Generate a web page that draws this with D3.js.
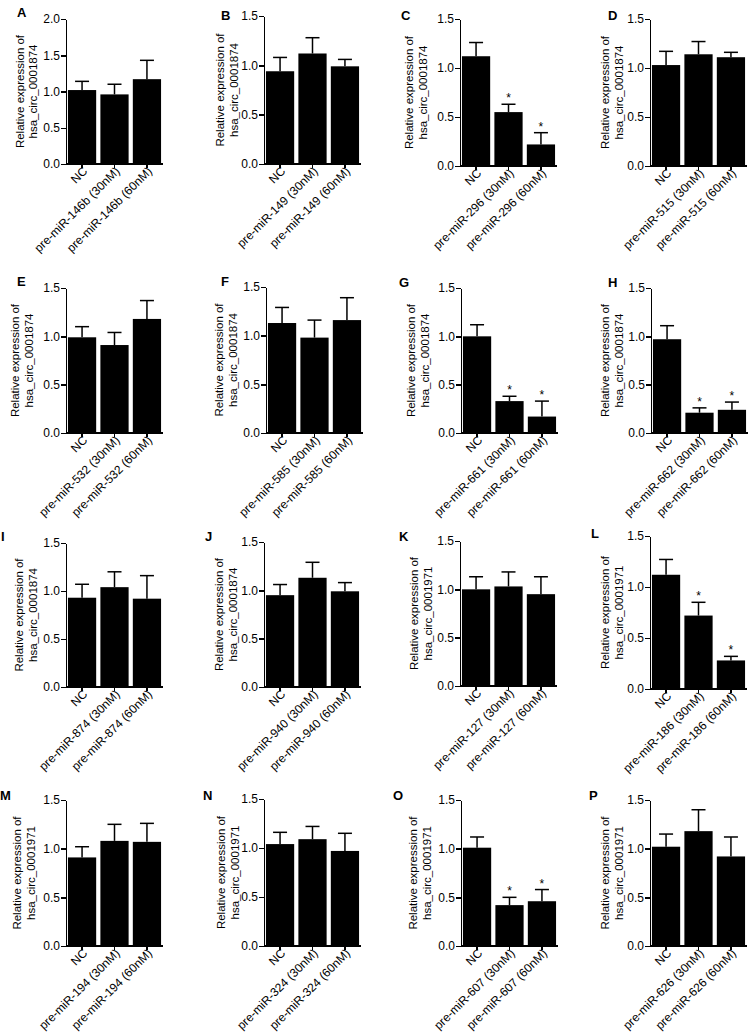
<!DOCTYPE html>
<meta charset="utf-8">
<style>
body { margin:0; background:#fff; font-family: Arial, "Liberation Sans", Helvetica, sans-serif; }
.axis path, .axis line { stroke:#000; stroke-width:1.5px; shape-rendering:crispEdges; }
.axis text { font-size:12px; fill:#000; }
.letter { font-size:13px; font-weight:bold; }
.ylab { font-size:11.5px; }
</style>
<svg width="754" height="1036"></svg>
<script src="https://d3js.org/d3.v7.min.js"></script>
<script>

// data
var letters = ["A","B","C","D","E","F","G","H","I","J","K","L","M","N","O","P"];
var mirnas = ["146b","149","296","515","532","585","661","662","874","940","127","186","194","324","607","626"];
var circs = ["hsa_circ_0001874","hsa_circ_0001874","hsa_circ_0001874","hsa_circ_0001874",
             "hsa_circ_0001874","hsa_circ_0001874","hsa_circ_0001874","hsa_circ_0001874",
             "hsa_circ_0001874","hsa_circ_0001874","hsa_circ_0001971","hsa_circ_0001971",
             "hsa_circ_0001971","hsa_circ_0001971","hsa_circ_0001971","hsa_circ_0001971"];
var yMax = [2.0,1.5,1.5,1.5, 1.5,1.5,1.5,1.5, 1.5,1.5,1.5,1.5, 1.5,1.5,1.5,1.5];
var means = [
  [1.02,0.96,1.17],[0.94,1.12,0.99],[1.12,0.55,0.22],[1.03,1.14,1.11],
  [0.99,0.91,1.18],[1.13,0.98,1.16],[1.00,0.33,0.17],[0.97,0.21,0.24],
  [0.93,1.04,0.92],[0.95,1.13,0.99],[1.00,1.03,0.95],[1.12,0.72,0.28],
  [0.91,1.08,1.07],[1.04,1.09,0.97],[1.01,0.42,0.46],[1.02,1.18,0.92]
];
var errs = [
  [0.12,0.14,0.26],[0.14,0.16,0.07],[0.14,0.08,0.12],[0.14,0.13,0.05],
  [0.11,0.13,0.19],[0.16,0.18,0.23],[0.12,0.05,0.16],[0.14,0.05,0.08],
  [0.14,0.16,0.24],[0.11,0.16,0.09],[0.13,0.15,0.18],[0.15,0.13,0.04],
  [0.11,0.17,0.19],[0.12,0.13,0.18],[0.11,0.08,0.12],[0.13,0.22,0.20]
];
var sig = [
  [0,0,0],[0,0,0],[0,1,1],[0,0,0],
  [0,0,0],[0,0,0],[0,1,1],[0,1,1],
  [0,0,0],[0,0,0],[0,0,0],[0,1,1],
  [0,0,0],[0,0,0],[0,1,1],[0,0,0]
];

// layout (pixel positions of each panel)
var axisX = [66,264,460,650, 66,266,461,651, 66,264,460,650, 66,264,461,650];
var topY  = [19,16,19,19, 288,287,288,288, 543,542,541,536, 800,799,800,800];
var baseY = [164,164,166,166, 433,433,433,433, 687,687,686,689, 946,946,946,946];
var letterPos = [[17,17],[221,20],[401,20],[608,20],[17,286],[221,286],[399,287],[608,287],
                 [1,541],[205,541],[399,541],[591,538],[0,800],[203,800],[393,800],[589,800]];
var lab1 = [-46,-44,-51,-45, -51,-47,-50,-46, -47,-45,-46,-45, -49,-43,-48,-45];
var lab2 = [-33,-30,-37,-31, -37,-33,-36,-32, -33,-31,-32,-31, -35,-29,-34,-31];
var plotW = 97;

var svg = d3.select("svg");

letters.forEach(function(L, p) {
  var g = svg.append("g");
  var cats = ["NC", "pre-miR-" + mirnas[p] + " (30nM)", "pre-miR-" + mirnas[p] + " (60nM)"];

  var x = d3.scaleBand().domain(cats).range([axisX[p], axisX[p] + plotW])
      .paddingInner(0.13).paddingOuter(0.06);
  var y = d3.scaleLinear().domain([0, yMax[p]]).range([baseY[p], topY[p]]);

  // bars
  g.selectAll("rect").data(cats).enter().append("rect")
      .attr("x", function(d) { return x(d); })
      .attr("width", x.bandwidth())
      .attr("y", function(d, i) { return y(means[p][i]); })
      .attr("height", function(d, i) { return baseY[p] - y(means[p][i]); })
      .attr("fill", "#000");

  // error bars (upper only)
  cats.forEach(function(d, i) {
    var cx = x(d) + x.bandwidth() / 2;
    var top = y(means[p][i] + errs[p][i]);
    g.append("line").attr("x1", cx).attr("x2", cx)
        .attr("y1", y(means[p][i])).attr("y2", top)
        .attr("stroke", "#000").attr("stroke-width", 1.5);
    g.append("line").attr("x1", cx - 7).attr("x2", cx + 7)
        .attr("y1", top).attr("y2", top)
        .attr("stroke", "#000").attr("stroke-width", 1.5);
    if (sig[p][i]) {
      g.append("text").attr("x", cx).attr("y", top - 2)
          .attr("text-anchor", "middle").attr("font-size", 12).text("*");
    }
  });

  // y axis
  g.append("g").attr("class", "axis")
      .attr("transform", "translate(" + axisX[p] + ",0)")
      .call(d3.axisLeft(y).ticks(yMax[p] / 0.5).tickFormat(d3.format(".1f")).tickSize(5).tickSizeOuter(0).tickPadding(1));

  // x axis
  var xa = g.append("g").attr("class", "axis")
      .attr("transform", "translate(0," + baseY[p] + ")")
      .call(d3.axisBottom(x).tickSize(4).tickSizeOuter(0));
  xa.select(".domain").attr("d", "M" + axisX[p] + ",0H" + (axisX[p] + plotW));
  xa.selectAll("text")
      .attr("text-anchor", "end")
      .attr("dy", "0.35em")
      .attr("transform", "translate(3,5) rotate(-45)")
      .attr("x", 0).attr("y", 0);

  // y label, two lines
  var cy = (topY[p] + baseY[p]) / 2;
  g.append("text").attr("class", "ylab")
      .attr("transform", "translate(" + (axisX[p] + lab1[p] + 4) + "," + cy + ") rotate(-90)")
      .attr("text-anchor", "middle").text("Relative expression of");
  g.append("text").attr("class", "ylab")
      .attr("transform", "translate(" + (axisX[p] + lab2[p] + 4) + "," + cy + ") rotate(-90)")
      .attr("text-anchor", "middle").text(circs[p]);

  // panel letter
  g.append("text").attr("class", "letter")
      .attr("x", letterPos[p][0]).attr("y", letterPos[p][1]).text(L);
});

</script>
